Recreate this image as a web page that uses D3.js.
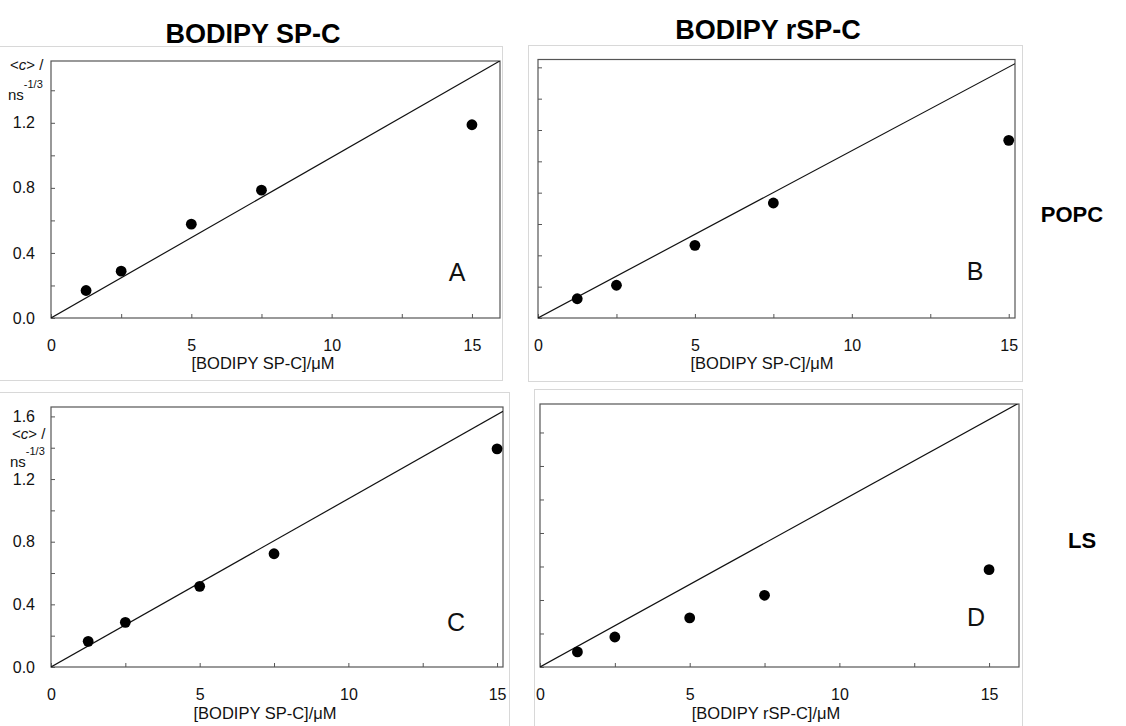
<!DOCTYPE html>
<html>
<head>
<meta charset="utf-8">
<script src="https://cdn.jsdelivr.net/npm/d3@7"></script>
<style>
  html, body { margin: 0; padding: 0; background: #fff; }
  svg { display: block; font-family: "Liberation Sans", Arial, sans-serif; }
</style>
</head>
<body>
<svg id="chart" width="1126" height="726"></svg>
<script>
// Probe concentration (µM) shared by every panel
const conc = [1.25, 2.5, 5, 7.5, 15];

// Mean <c> (ns^-1/3) for each panel
const cPopcSP  = [0.169, 0.288, 0.577, 0.786, 1.188];   // A
const cPopcRSP = [0.123, 0.209, 0.464, 0.734, 1.134];   // B
const cLsSP    = [0.164, 0.285, 0.515, 0.723, 1.393];   // C
const cLsRSP   = [0.090, 0.179, 0.293, 0.428, 0.581];   // D

// Slope of the reference line through the origin in each panel
const lineSlopes = [0.0988, 0.1068, 0.1074, 0.0985];

// Axis extents and ticks
const xMaxes = [16, 15.2, 15.2, 16];
const yMaxes = [1.58, 1.65, 1.66, 1.57];
const xTicks = [0, 2.5, 5, 7.5, 10, 12.5, 15];
const xTickLabels = [0, 5, 10, 15];
const yTicks = [0, 0.2, 0.4, 0.6, 0.8, 1.0, 1.2, 1.4, 1.6];
const yTickLabels = [0, 0.4, 0.8, 1.2, 1.6];

const panelLetters = ["A", "B", "C", "D"];
const xTitles = ["[BODIPY SP-C]/\u03BCM", "[BODIPY SP-C]/\u03BCM", "[BODIPY SP-C]/\u03BCM", "[BODIPY rSP-C]/\u03BCM"];
const columnTitles = ["BODIPY SP-C", "BODIPY rSP-C"];
const rowTitles = ["POPC", "LS"];

const seriesList = [cPopcSP, cPopcRSP, cLsSP, cLsRSP];

// Layout of each panel: outer card, plot frame, and text anchors
const layout = [
  { card: [-1, 46, 502, 380], frame: [51, 61, 500, 318], yLabels: true,
    letter: [457, 281], xTitle: [263, 369], yTitle: [10, 70, 8, 100] },
  { card: [528, 45, 1022, 381], frame: [538, 59.5, 1015, 318], yLabels: false,
    letter: [975, 280], xTitle: [762, 369] },
  { card: [-1, 392, 509, 730], frame: [51, 407, 503, 667], yLabels: true,
    letter: [456, 631], xTitle: [265, 719], yTitle: [12, 439, 10, 467] },
  { card: [534, 389, 1022, 730], frame: [540, 404, 1019, 667], yLabels: false,
    letter: [976, 626], xTitle: [766, 719] }
];

const svg = d3.select("#chart");
const frameColor = "#555";

layout.forEach((L, i) => {
  const [l, t, r, b] = L.frame;
  const x = d3.scaleLinear().domain([0, xMaxes[i]]).range([l, r]);
  const y = d3.scaleLinear().domain([0, yMaxes[i]]).range([b, t]);
  const g = svg.append("g");

  // light card outline
  const [cl, ct, cr, cb] = L.card;
  g.append("rect")
    .attr("x", cl + 0.5).attr("y", ct + 0.5)
    .attr("width", cr - cl).attr("height", cb - ct)
    .attr("fill", "none").attr("stroke", "#d8d8d8").attr("stroke-width", 1);

  const clipId = "clip" + i;
  svg.append("clipPath").attr("id", clipId)
    .append("rect").attr("x", l).attr("y", t).attr("width", r - l).attr("height", b - t);

  // x axis (ticks point inward)
  const xAxis = d3.axisBottom(x)
    .tickValues(xTicks.filter(v => v <= xMaxes[i]))
    .tickSize(-4)
    .tickPadding(22)
    .tickFormat(v => xTickLabels.includes(v) ? d3.format("d")(v) : "");
  const gx = g.append("g").attr("transform", `translate(0,${b})`).call(xAxis);
  gx.select(".domain").remove();
  gx.selectAll("line").attr("stroke", frameColor);
  gx.selectAll("text").attr("font-size", 16).attr("fill", "#111")
    .attr("font-family", "Liberation Sans, Arial, sans-serif");

  // y axis (ticks point inward, labels only on left column)
  const yAxis = d3.axisLeft(y)
    .tickValues(yTicks.filter(v => v <= yMaxes[i]))
    .tickSize(-4)
    .tickPadding(16)
    .tickFormat(v => (L.yLabels && yTickLabels.some(u => Math.abs(u - v) < 1e-9)) ? d3.format(".1f")(v) : "");
  const gy = g.append("g").attr("transform", `translate(${l},0)`).call(yAxis);
  gy.select(".domain").remove();
  gy.selectAll("line").attr("stroke", frameColor);
  gy.selectAll("text").attr("font-size", 16).attr("fill", "#111")
    .attr("font-family", "Liberation Sans, Arial, sans-serif");

  // plot frame
  g.append("rect")
    .attr("x", l).attr("y", t).attr("width", r - l).attr("height", b - t)
    .attr("fill", "none").attr("stroke", frameColor).attr("stroke-width", 1.2);

  // reference line through the origin
  const lineData = [0, xMaxes[i]].map(v => [v, lineSlopes[i] * v]);
  g.append("path")
    .datum(lineData)
    .attr("clip-path", `url(#${clipId})`)
    .attr("d", d3.line().x(d => x(d[0])).y(d => y(d[1])))
    .attr("fill", "none").attr("stroke", "#111").attr("stroke-width", 1.2);

  // measured points
  g.selectAll("circle.pt")
    .data(conc.map((c, k) => [c, seriesList[i][k]]))
    .join("circle")
    .attr("class", "pt")
    .attr("cx", d => x(d[0])).attr("cy", d => y(d[1]))
    .attr("r", 5.4).attr("fill", "#000");

  // panel letter
  g.append("text")
    .attr("x", L.letter[0]).attr("y", L.letter[1])
    .attr("text-anchor", "middle").attr("font-size", 25).attr("fill", "#111")
    .text(panelLetters[i]);

  // x axis title
  g.append("text")
    .attr("x", L.xTitle[0]).attr("y", L.xTitle[1])
    .attr("text-anchor", "middle").attr("font-size", 16.5).attr("fill", "#111")
    .text(xTitles[i]);

  // y axis title
  if (L.yTitle) {
    const [x1, y1, x2, y2] = L.yTitle;
    const t1 = g.append("text").attr("x", x1).attr("y", y1).attr("font-size", 15).attr("fill", "#111");
    t1.append("tspan").text("<");
    t1.append("tspan").attr("font-style", "italic").text("c");
    t1.append("tspan").text("> /");
    const t2 = g.append("text").attr("x", x2).attr("y", y2).attr("font-size", 15).attr("fill", "#111");
    t2.append("tspan").text("ns");
    t2.append("tspan").attr("dy", -12).attr("font-size", 11).text("-1/3");
  }
});

// column titles
svg.selectAll("text.col")
  .data(columnTitles)
  .join("text")
  .attr("class", "col")
  .attr("x", (d, k) => [253, 768][k])
  .attr("y", (d, k) => [43, 39][k])
  .attr("text-anchor", "middle")
  .attr("font-weight", "bold").attr("font-size", 27).attr("fill", "#000")
  .text(d => d);

// row titles
svg.selectAll("text.row")
  .data(rowTitles)
  .join("text")
  .attr("class", "row")
  .attr("x", (d, k) => [1072, 1082][k])
  .attr("y", (d, k) => [222, 548][k])
  .attr("text-anchor", "middle")
  .attr("font-weight", "bold").attr("font-size", 22).attr("fill", "#000")
  .text(d => d);
</script>
</body>
</html>
